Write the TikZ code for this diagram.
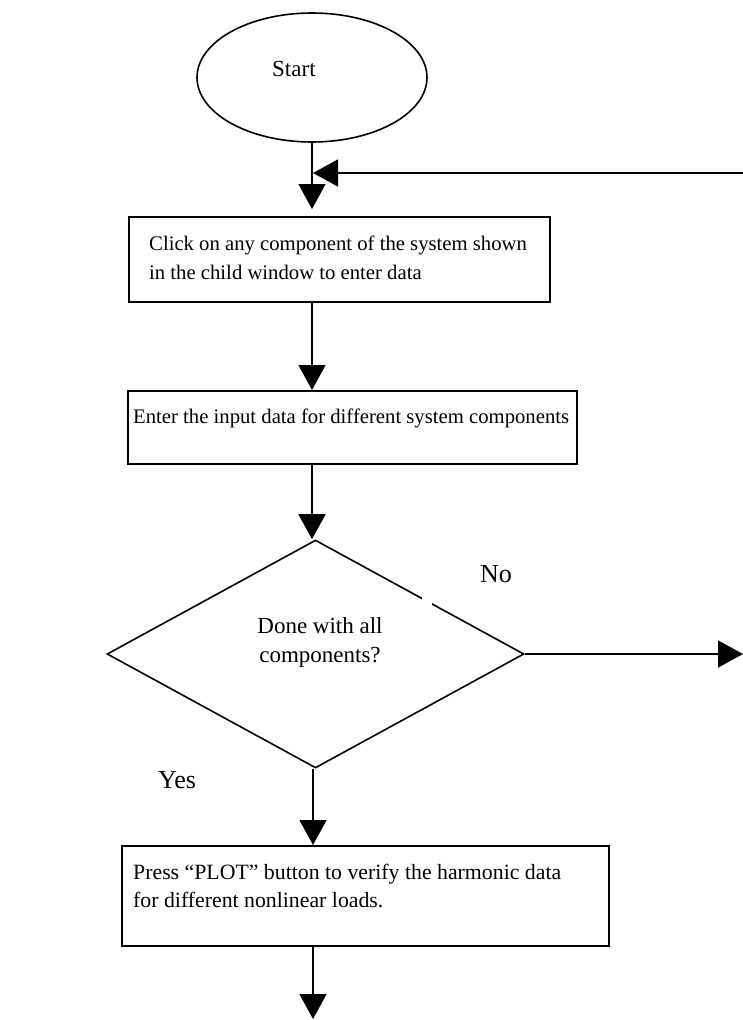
\documentclass[tikz,border=0pt]{standalone}
\usepackage{fontspec}
\setmainfont{Liberation Serif}
\usetikzlibrary{shapes.geometric,arrows.meta}
\begin{document}
\begin{tikzpicture}[x=1pt,y=-1pt,
  every node/.style={font=\fontsize{23}{29}\selectfont},
  boxfont/.style={font=\fontsize{20.7}{28}\selectfont},
  bigfont/.style={font=\fontsize{26}{30}\selectfont},
  frame/.style={draw, line width=1.6pt, inner sep=0pt},
  txt/.style={anchor=base west, inner sep=0pt},
  flow/.style={line width=1.6pt, -{Triangle[length=25pt,width=27pt]}},
]
\useasboundingbox (0,0) rectangle (743,1020);

% main vertical axis of the flow
\coordinate (axis) at (312,0);

% start terminal
\node[frame, ellipse, minimum width=230pt, minimum height=129pt] (start) at (312,77.5) {};
\node[txt] (startlbl) at (272,76) {Start};

% process boxes
\node[frame, rectangle, anchor=north west, minimum width=421pt, minimum height=85pt] (box1) at (128,216) {};
\node[txt, boxfont] (box1a) at (149,250) {Click on any component of the system shown};
\node[txt, boxfont] (box1b) at (149,279) {in the child window to enter data};

\node[frame, rectangle, anchor=north west, minimum width=449pt, minimum height=73pt] (box2) at (127,390) {};
\node[txt, boxfont] (box2a) at (133,423) {Enter the input data for different system components};

% decision
\node[frame, diamond, minimum width=417pt, minimum height=228pt] (dec) at (315.5,654) {};
\fill[white] (422,594) rectangle (432,608);
\node[align=center, inner sep=0pt] (declbl) at (320,642) {Done with all\\components?};
\node[txt, bigfont] (yes) at (158,788) {Yes};
\node[txt, bigfont] (no) at (480,582) {No};

\node[frame, rectangle, anchor=north west, minimum width=487pt, minimum height=100pt] (box3) at (121,845) {};
\node[txt, boxfont, font=\fontsize{21.8}{28}\selectfont] (box3a) at (133,879) {Press “PLOT” button to verify the harmonic data};
\node[txt, boxfont, font=\fontsize{21.8}{28}\selectfont] (box3b) at (133,907) {for different nonlinear loads.};

% connector end points
\coordinate (entry) at (312,209);
\coordinate (loopin) at (743,173);
\coordinate (merge) at (313,173);
\coordinate (noout) at (743,654);
\coordinate (exit) at (313,1019);

% connectors
\draw[flow] (start.south) -- (entry);
\draw[flow] (loopin) -- (merge);
\draw[flow] (box1.south -| axis) -- (box2.north -| axis);
\draw[flow] (box2.south -| axis) -- (dec.north -| axis);
\draw[flow] (dec.east) -- (noout);
\draw[flow] (dec.south -| exit) -- (box3.north -| exit);
\draw[flow] (box3.south -| exit) -- (exit);
\end{tikzpicture}
\end{document}
